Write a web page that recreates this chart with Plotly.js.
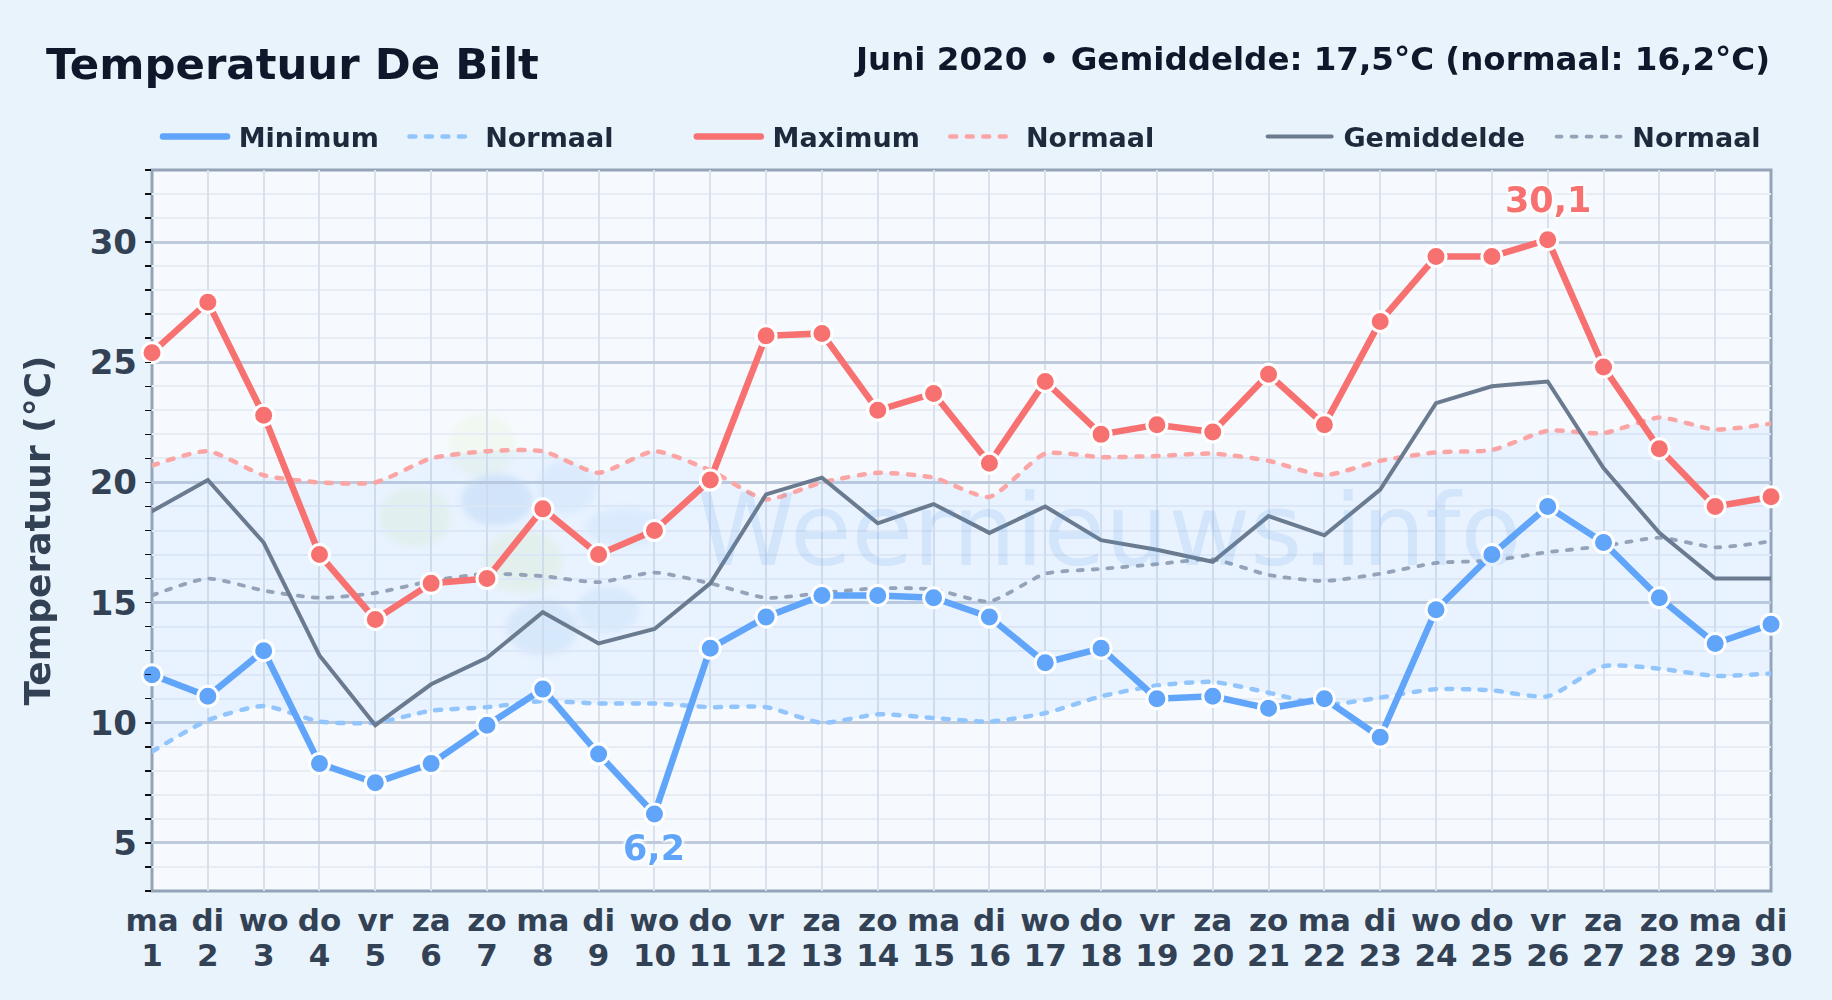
<!DOCTYPE html>
<html><head><meta charset="utf-8">
<script src="https://cdn.plot.ly/plotly-3.0.1.min.js"></script>
<style>
html,body{margin:0;padding:0;overflow:hidden;background:#e8f3fc}
#chart{width:1832px;height:1000px}
.legendlines path,.scatterlayer .js-line{stroke-linecap:round}
</style></head><body><div id="chart"></div>
<script>
const days=[1,2,3,4,5,6,7,8,9,10,11,12,13,14,15,16,17,18,19,20,21,22,23,24,25,26,27,28,29,30];
const weekdays=['ma','di','wo','do','vr','za','zo','ma','di','wo','do','vr','za','zo','ma','di','wo','do','vr','za','zo','ma','di','wo','do','vr','za','zo','ma','di'];
const tempMax=[25.4,27.5,22.8,17,14.3,15.8,16,18.9,17,18,20.1,26.1,26.2,23,23.7,20.8,24.2,22,22.4,22.1,24.5,22.4,26.7,29.4,29.4,30.1,24.8,21.4,19,19.4];
const tempMin=[12,11.1,13,8.3,7.5,8.3,9.9,11.4,8.7,6.2,13.1,14.4,15.3,15.3,15.2,14.4,12.5,13.1,11,11.1,10.6,11,9.4,14.7,17,19,17.5,15.2,13.3,14.1];
const tempMean=[18.8,20.1,17.5,12.8,9.9,11.6,12.7,14.6,13.3,13.9,15.8,19.5,20.2,18.3,19.1,17.9,19,17.6,17.2,16.7,18.6,17.8,19.7,23.3,24,24.2,20.6,17.9,16,16];
const normMax=[20.7,21.3,20.3,20,20,21,21.3,21.3,20.4,21.3,20.5,19.3,20,20.4,20.2,19.4,21.2,21.05,21.1,21.2,20.9,20.3,20.9,21.25,21.35,22.15,22.05,22.7,22.2,22.45];
const normMean=[15.3,16,15.5,15.2,15.4,15.9,16.2,16.1,15.85,16.25,15.8,15.2,15.4,15.6,15.55,15.05,16.2,16.4,16.6,16.8,16.15,15.9,16.2,16.65,16.75,17.1,17.35,17.7,17.3,17.55];
const normMin=[8.8,10.1,10.7,10.05,10,10.5,10.65,10.9,10.8,10.8,10.65,10.65,10,10.35,10.2,10.05,10.4,11.1,11.55,11.7,11.25,10.75,11.05,11.4,11.35,11.1,12.35,12.25,11.95,12.05];

const L=152,R=1771.5,T=170,B=891;
const px=x=>(x-L)/(R-L), py=y=>(B-y)/(B-T);
const font='"DejaVu Sans", sans-serif';
const C={min:'#60a5fa',max:'#f87171',mean:'#6b7b8f',nmin:'#93c5fd',nmax:'#fca5a5',nmean:'#94a3b8'};
const spline={shape:'spline',smoothing:0.6};
const gap='\u2005';
const lineTrace=(name,y,color,width,dash,legend)=>({type:'scatter',mode:'lines',name:gap+name,x:days,y,legend,hoverinfo:'skip',
  line:Object.assign({color,width,dash:dash||'solid'},dash?spline:{})});
const markerTrace=(y,color)=>({type:'scatter',mode:'markers',x:days,y,showlegend:false,cliponaxis:false,hoverinfo:'skip',
  marker:{color,size:20,line:{color:'#ffffff',width:3}}});

const traces=[
  {type:'scatter',mode:'lines',x:days,y:normMin,showlegend:false,hoverinfo:'skip',line:Object.assign({width:0},spline)},
  {type:'scatter',mode:'lines',x:days,y:normMax,showlegend:false,hoverinfo:'skip',fill:'tonexty',fillcolor:'rgba(147,197,253,0.13)',line:Object.assign({width:0},spline)},
  lineTrace('Normaal',normMin,C.nmin,4.5,'6px,10.5px','legend2'),
  lineTrace('Normaal',normMax,C.nmax,4.5,'6px,10.5px','legend4'),
  lineTrace('Normaal',normMean,C.nmean,3.8,'5px,10px','legend6'),
  lineTrace('Gemiddelde',tempMean,C.mean,4,null,'legend5'),
  lineTrace('Minimum',tempMin,C.min,6.5,null,'legend'),
  lineTrace('Maximum',tempMax,C.max,6.5,null,'legend3'),
  markerTrace(tempMin,C.min),
  markerTrace(tempMax,C.max),
  {type:'scatter',mode:'markers',x:days,y:tempMean,xaxis:'x2',showlegend:false,hoverinfo:'skip',opacity:0,marker:{size:1}}
];

const legendAt=x=>({x:px(x),xanchor:'left',y:py(137),yanchor:'middle',orientation:'h',bgcolor:'rgba(0,0,0,0)',borderwidth:0,
  itemwidth:64,font:{family:font,size:27,color:'#1e293b',weight:700},itemclick:false,itemdoubleclick:false});

const iMax=tempMax.indexOf(Math.max(...tempMax)), iMin=tempMin.indexOf(Math.min(...tempMin));
const fmt=v=>String(v).replace('.',',');
const halo='0 0 3px #fff, 0 0 3px #fff, 0 0 4px #fff, 0 0 4px #fff, 0 0 5px #fff';

const blobs=[
 [482,445,34,32,'#e3f0c8',.25],[415,517,36,30,'#dcefc8',.32],[497,500,36,26,'#a9cdf0',.34],[567,487,30,27,'#bfe0fb',.28],
 [523,562,40,32,'#e3f0c8',.35],[542,628,36,28,'#a9cdf0',.26],[608,610,32,24,'#bfe0fb',.32],[625,527,40,20,'#bfe0fb',.28]
];
const shapes=blobs.map(([x,y,a,b,c,o])=>({type:'circle',xref:'paper',yref:'paper',layer:'below',x0:px(x-a),x1:px(x+a),y0:py(y+b),y1:py(y-b),fillcolor:c,opacity:o,line:{width:0}}));
shapes.push({type:'rect',xref:'paper',yref:'paper',layer:'below',x0:0,x1:1,y0:0,y1:1,fillcolor:'rgba(0,0,0,0)',line:{color:'#94a3b8',width:3}});

const layout={
  width:1832,height:1000,paper_bgcolor:'#e8f3fc',plot_bgcolor:'#f6faff',
  margin:{l:L,r:1832-R,t:T,b:1000-B,pad:0},showlegend:true,hovermode:false,
  title:{text:'Temperatuur De Bilt',x:46/1832,xref:'container',xanchor:'left',y:1-64/1000,yref:'container',yanchor:'middle',font:{family:font,size:43.4,color:'#0f172a',weight:700}},
  legend:legendAt(158),legend2:legendAt(404.5),legend3:legendAt(692),legend4:legendAt(945.5),legend5:legendAt(1263),legend6:legendAt(1552),
  xaxis:{range:[1,30],tickmode:'array',tickvals:days,ticktext:weekdays,tickangle:0,ticks:'',showgrid:true,gridcolor:'#d8e1ec',gridwidth:2,
    zeroline:false,showline:false,tickfont:{family:font,size:31,color:'#334155',weight:700},ticklabelstandoff:8,automargin:false},
  xaxis2:{overlaying:'x',anchor:'y',side:'bottom',range:[1,30],tickmode:'array',tickvals:days,ticktext:days.map(String),tickangle:0,ticks:'',showgrid:false,
    zeroline:false,showline:false,tickfont:{family:font,size:31,color:'#334155',weight:700},ticklabelstandoff:43,automargin:false},
  yaxis:{range:[3,33],tickmode:'array',tickvals:[5,10,15,20,25,30],ticks:'',showgrid:true,gridcolor:'#bfcbdb',gridwidth:3,zeroline:false,showline:false,
    tickfont:{family:font,size:34,color:'#334155',weight:700},ticklabelstandoff:14,automargin:false,
    minor:{dtick:1,tick0:3,ticks:'outside',ticklen:6,tickwidth:1.5,tickcolor:'#111',showgrid:true,gridcolor:'#e6edf5',gridwidth:2},
    title:{text:'Temperatuur (°C)',standoff:28,font:{family:font,size:36,color:'#334155',weight:700}}},
  shapes,
  annotations:[
    {xref:'paper',yref:'paper',x:px(1772.5),xanchor:'right',y:py(59),yanchor:'middle',showarrow:false,text:'Juni 2020 • Gemiddelde: 17,5°C (normaal: 16,2°C)',font:{family:font,size:32.5,color:'#0f172a',weight:700}},
    {xref:'paper',yref:'paper',x:px(1110),xanchor:'center',y:py(530),yanchor:'middle',showarrow:false,text:'Weernieuws.info',opacity:.15,font:{family:font,size:100,color:'#4f9de0'}},
    {x:days[iMax],y:tempMax[iMax],yshift:40,showarrow:false,text:fmt(tempMax[iMax]),font:{family:font,size:35,color:C.max,weight:700,shadow:halo}},
    {x:days[iMin],y:tempMin[iMin],yshift:-34,showarrow:false,text:fmt(tempMin[iMin]),font:{family:font,size:35,color:C.min,weight:700,shadow:halo}}
  ]
};
Plotly.newPlot('chart',traces,layout,{staticPlot:true,displayModeBar:false}).then(()=>{
  document.querySelectorAll('.shapelayer path').forEach(p=>{ if(parseFloat(getComputedStyle(p).opacity)<1) p.style.filter='blur(3px)'; });
});
</script></body></html>
